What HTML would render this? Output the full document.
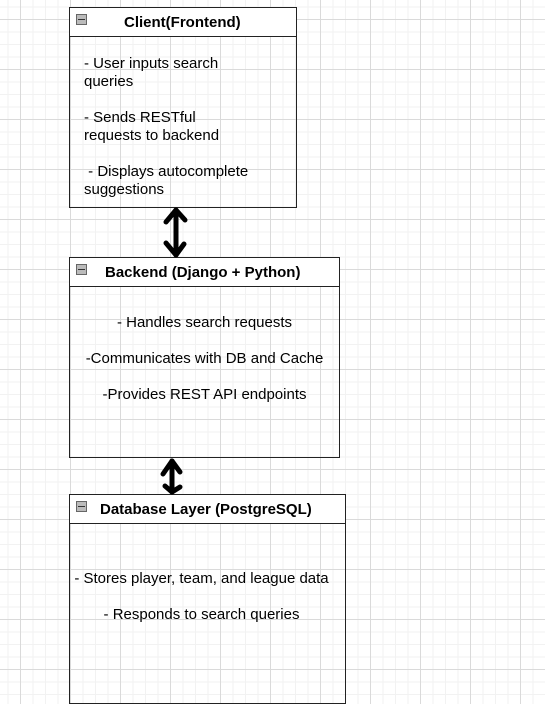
<!DOCTYPE html>
<html><head><style>
body{margin:0;width:545px;height:692px;overflow:hidden;position:relative;font-family:"Liberation Sans",Arial,sans-serif;
background-color:#fff;
background-image:linear-gradient(#dadada 1px,transparent 1px),linear-gradient(90deg,#dadada 1px,transparent 1px),linear-gradient(#f2f2f2 1px,transparent 1px),linear-gradient(90deg,#f2f2f2 1px,transparent 1px);
background-size:50px 50px,50px 50px,12.5px 12.5px,12.5px 12.5px;
background-position:0 19px,20px 0,0 6.5px,7.5px 0;}
.box{position:absolute;border:1.5px solid #222;box-sizing:border-box}
.hd{height:28px;background:#fff;border-bottom:1.5px solid #222;font-weight:bold;font-size:15px;line-height:29px;position:relative}
.ic{position:absolute;left:6px;top:6px;width:9px;height:9px;background:#bbb;border:1px solid #666}
.ic:after{content:"";position:absolute;left:1px;right:1px;top:4px;height:1px;background:#333}
.t{position:absolute;font-size:15px;line-height:18px;color:#000}
</style></head><body>
<div class="box" style="left:69px;top:7px;width:228px;height:201px">
 <div class="hd"><span class="ic"></span><span style="position:absolute;left:54px">Client(Frontend)</span></div>
 <div class="t" style="left:14px;top:47px">- User inputs search<br>queries<br><br>- Sends RESTful<br>requests to backend<br><br>&nbsp;- Displays autocomplete<br>suggestions</div>
</div>
<div class="box" style="left:69px;top:257px;width:271px;height:201px">
 <div class="hd"><span class="ic"></span><span style="position:absolute;left:35px">Backend (Django + Python)</span></div>
 <div class="t" style="left:0;width:100%;text-align:center;top:56px">- Handles search requests<br><br>-Communicates with DB and Cache<br><br>-Provides REST API endpoints</div>
</div>
<div class="box" style="left:69px;top:494px;width:277px;height:210px">
 <div class="hd"><span class="ic"></span><span style="position:absolute;left:30px">Database Layer (PostgreSQL)</span></div>
 <div class="t" style="left:-6px;width:100%;text-align:center;top:75px">- Stores player, team, and league data<br><br>- Responds to search queries</div>
</div>
<svg width="545" height="692" style="position:absolute;left:0;top:0" fill="none" stroke="#000" stroke-width="5" stroke-linecap="round" stroke-linejoin="round">
 <path d="M176 210 L176 255"/><path d="M166 222 L176 210 L185 220"/><path d="M166 243 L176 255 L184 244"/>
 <path d="M172 461 L172 492"/><path d="M163 474 L172 461 L180 472"/><path d="M165 486 L172 492 L180 487"/>
</svg>
</body></html>
